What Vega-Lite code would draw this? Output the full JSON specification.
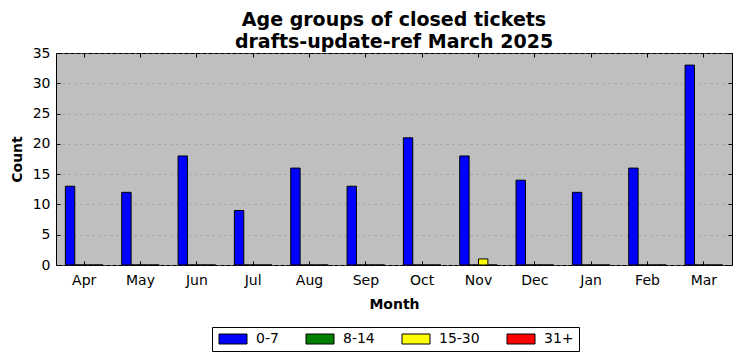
{
  "$schema": "https://vega.github.io/schema/vega-lite/v6.json",
  "width": 676,
  "height": 212,
  "padding": {"left": 56, "top": 53, "right": 10, "bottom": 96},
  "autosize": {"type": "none"},
  "background": "white",
  "config": {
    "font": "DejaVu Sans",
    "view": {"fill": "#bfbfbf", "stroke": "black", "strokeWidth": 1},
    "axis": {"domain": false, "labelFont": "DejaVu Sans", "labelFontSize": 14, "labelColor": "black", "tickColor": "black", "titleFont": "DejaVu Sans", "titleFontSize": 14, "titleFontWeight": "bold", "titleColor": "black"}
  },
  "title": {
    "text": ["Age groups of closed tickets", "drafts-update-ref March 2025"],
    "font": "DejaVu Sans",
    "fontSize": 19,
    "fontWeight": "bold",
    "lineHeight": 22,
    "color": "black",
    "anchor": "middle",
    "offset": 2,
    "dy": 8
  },
  "data": {
    "values": [
      {"month": "Apr", "group": "0-7", "count": 13}, {"month": "Apr", "group": "8-14", "count": 0}, {"month": "Apr", "group": "15-30", "count": 0}, {"month": "Apr", "group": "31+", "count": 0},
      {"month": "May", "group": "0-7", "count": 12}, {"month": "May", "group": "8-14", "count": 0}, {"month": "May", "group": "15-30", "count": 0}, {"month": "May", "group": "31+", "count": 0},
      {"month": "Jun", "group": "0-7", "count": 18}, {"month": "Jun", "group": "8-14", "count": 0}, {"month": "Jun", "group": "15-30", "count": 0}, {"month": "Jun", "group": "31+", "count": 0},
      {"month": "Jul", "group": "0-7", "count": 9}, {"month": "Jul", "group": "8-14", "count": 0}, {"month": "Jul", "group": "15-30", "count": 0}, {"month": "Jul", "group": "31+", "count": 0},
      {"month": "Aug", "group": "0-7", "count": 16}, {"month": "Aug", "group": "8-14", "count": 0}, {"month": "Aug", "group": "15-30", "count": 0}, {"month": "Aug", "group": "31+", "count": 0},
      {"month": "Sep", "group": "0-7", "count": 13}, {"month": "Sep", "group": "8-14", "count": 0}, {"month": "Sep", "group": "15-30", "count": 0}, {"month": "Sep", "group": "31+", "count": 0},
      {"month": "Oct", "group": "0-7", "count": 21}, {"month": "Oct", "group": "8-14", "count": 0}, {"month": "Oct", "group": "15-30", "count": 0}, {"month": "Oct", "group": "31+", "count": 0},
      {"month": "Nov", "group": "0-7", "count": 18}, {"month": "Nov", "group": "8-14", "count": 0}, {"month": "Nov", "group": "15-30", "count": 1}, {"month": "Nov", "group": "31+", "count": 0},
      {"month": "Dec", "group": "0-7", "count": 14}, {"month": "Dec", "group": "8-14", "count": 0}, {"month": "Dec", "group": "15-30", "count": 0}, {"month": "Dec", "group": "31+", "count": 0},
      {"month": "Jan", "group": "0-7", "count": 12}, {"month": "Jan", "group": "8-14", "count": 0}, {"month": "Jan", "group": "15-30", "count": 0}, {"month": "Jan", "group": "31+", "count": 0},
      {"month": "Feb", "group": "0-7", "count": 16}, {"month": "Feb", "group": "8-14", "count": 0}, {"month": "Feb", "group": "15-30", "count": 0}, {"month": "Feb", "group": "31+", "count": 0},
      {"month": "Mar", "group": "0-7", "count": 33}, {"month": "Mar", "group": "8-14", "count": 0}, {"month": "Mar", "group": "15-30", "count": 0}, {"month": "Mar", "group": "31+", "count": 0}
    ]
  },
  "layer": [
    {
      "mark": {"type": "bar", "stroke": "black", "strokeWidth": 1, "cornerRadius": 0},
      "encoding": {
        "x": {
          "field": "month", "type": "nominal", "sort": null,
          "scale": {"paddingInner": 0, "paddingOuter": 0},
          "axis": {"title": "Month", "labelAngle": 0, "tickSize": -4, "labelPadding": 12, "titlePadding": 10, "grid": false}
        },
        "xOffset": {
          "field": "group", "type": "nominal",
          "sort": ["0-7", "8-14", "15-30", "31+"],
          "scale": {"paddingInner": 0, "paddingOuter": 1.13}
        },
        "y": {
          "field": "count", "type": "quantitative",
          "scale": {"domain": [0, 35], "nice": false},
          "axis": {"title": "Count", "values": [0, 5, 10, 15, 20, 25, 30, 35], "tickSize": -4, "labelPadding": 10, "titlePadding": 8, "grid": true, "gridColor": "#8c8c8c", "gridDash": [2, 4], "gridWidth": 0.6}
        },
        "color": {
          "field": "group", "type": "nominal",
          "sort": ["0-7", "8-14", "15-30", "31+"],
          "scale": {"domain": ["0-7", "8-14", "15-30", "31+"], "range": ["#0000ff", "#008000", "#ffff00", "#ff0000"]},
          "legend": {
            "title": null,
            "orient": "none",
            "legendX": 156,
            "legendY": 274,
            "direction": "horizontal",
            "columns": 4,
            "symbolType": "M-1,-1H4.6V1H-1Z",
            "symbolSize": 100,
            "symbolStrokeColor": "black",
            "symbolStrokeWidth": 1,
            "symbolOpacity": 1,
            "labelFont": "DejaVu Sans",
            "labelFontSize": 14,
            "labelColor": "black",
            "labelOffset": 25,
            "columnPadding": 25,
            "padding": 5,
            "strokeColor": "black",
            "fillColor": "white"
          }
        }
      }
    },
    {
      "mark": {"type": "bar", "opacity": 0},
      "encoding": {
        "x": {"field": "month", "type": "nominal", "sort": null, "axis": {"orient": "top", "labels": false, "title": null, "tickSize": -4, "grid": false}},
        "y": {"field": "count", "type": "quantitative", "axis": {"orient": "right", "labels": false, "title": null, "tickSize": -4, "values": [0, 5, 10, 15, 20, 25, 30, 35], "grid": false}}
      }
    }
  ],
  "resolve": {"axis": {"x": "independent", "y": "independent"}}
}
